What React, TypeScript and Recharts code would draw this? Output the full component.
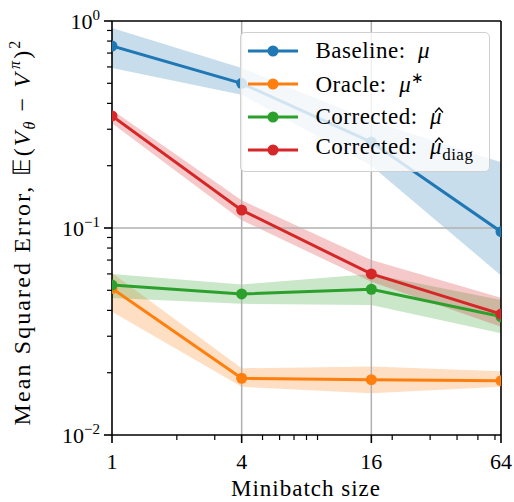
import React from 'react';
import { ComposedChart, Line, Area, XAxis, YAxis, ReferenceLine, Legend } from 'recharts';

const batchSizes = [1, 4, 16, 64];

const baseline = [0.757, 0.5, 0.26, 0.096];
const baselineLo = [0.593, 0.44, 0.2, 0.059];
const baselineHi = [0.925, 0.593, 0.33, 0.208];

const oracle = [0.051, 0.0188, 0.0185, 0.0183];
const oracleLo = [0.0394, 0.0171, 0.0159, 0.0171];
const oracleHi = [0.0606, 0.021, 0.0214, 0.0203];

const corrected = [0.053, 0.048, 0.0506, 0.0373];
const correctedLo = [0.0459, 0.043, 0.0425, 0.031];
const correctedHi = [0.06, 0.0534, 0.06, 0.0449];

const diag = [0.348, 0.122, 0.06, 0.0384];
const diagLo = [0.321, 0.109, 0.055, 0.0333];
const diagHi = [0.372, 0.136, 0.07, 0.046];

const xMajorTicks = [1, 4, 16, 64];
const xMinorTicks = [2, 3, 5, 6, 7, 8, 9, 20, 30, 40, 50, 60];
const yMajorTicks = [0.01, 0.1, 1];
const yMajorExp = ['−2', '−1', '0'];
const yMinorTicks = [0.02, 0.03, 0.04, 0.05, 0.06, 0.07, 0.08, 0.09, 0.2, 0.3, 0.4, 0.5, 0.6, 0.7, 0.8, 0.9];

const rows = batchSizes.map((b, i) => ({
  b,
  baseline: baseline[i],
  baselineBand: [baselineLo[i], baselineHi[i]],
  oracle: oracle[i],
  oracleBand: [oracleLo[i], oracleHi[i]],
  corrected: corrected[i],
  correctedBand: [correctedLo[i], correctedHi[i]],
  diag: diag[i],
  diagBand: [diagLo[i], diagHi[i]],
}));

const FONT = '"Liberation Serif", serif';

// mu with a hat drawn on top
const MuHat = () => (
  <span style={{ position: 'relative', display: 'inline-block' }}>
    <i>μ</i>
    <svg width={10} height={6} style={{ position: 'absolute', left: 4, top: 3 }}>
      <polyline points="1,5.5 5,1 9,5.5" fill="none" stroke="#000" strokeWidth={1.3} />
    </svg>
  </span>
);

const series = [
  { key: 'baseline', color: '#1f77b4', label: <>Baseline:&nbsp; <i>μ</i></> },
  { key: 'oracle', color: '#ff7f0e', label: <>Oracle:&nbsp; <i>μ</i><sup style={{ fontSize: 15 }}>∗</sup></> },
  { key: 'corrected', color: '#2ca02c', label: <>Corrected:&nbsp; <MuHat /></> },
  { key: 'diag', color: '#d62728', label: <>Corrected:&nbsp; <MuHat /><sub style={{ fontSize: 17 }}>diag</sub></> },
];

const XTick = (props: any) => {
  const { x, y, payload } = props;
  const major = xMajorTicks.includes(payload.value);
  return (
    <g>
      <line x1={x} x2={x} y1={y} y2={y + (major ? 8 : 5)} stroke="#000" strokeWidth={major ? 1.6 : 1.2} />
      {major && (
        <text x={x} y={y + 34} textAnchor="middle" fontFamily={FONT} fontSize={22} fill="#000">
          {payload.value}
        </text>
      )}
    </g>
  );
};

const YTick = (props: any) => {
  const { x, y, payload } = props;
  const idx = yMajorTicks.findIndex((v) => Math.abs(v - payload.value) < 1e-9);
  const major = idx >= 0;
  return (
    <g>
      <line x1={x - (major ? 8 : 5)} x2={x} y1={y} y2={y} stroke="#000" strokeWidth={major ? 1.6 : 1.2} />
      {major && (
        <text x={x - 12} y={y + 8} textAnchor="end" fontFamily={FONT} fontSize={22} fill="#000">
          <tspan>10</tspan>
          <tspan dy={-9} fontSize={15}>{yMajorExp[idx]}</tspan>
        </text>
      )}
    </g>
  );
};

const renderLegend = () => (
  <div
    style={{
      boxSizing: 'border-box',
      width: 250,
      background: 'rgba(255,255,255,0.8)',
      border: '1.5px solid #d0d0d0',
      borderRadius: 5,
      padding: '1px 6px 5px 5.5px',
      fontFamily: FONT,
      fontSize: 23,
      letterSpacing: 0.5,
      color: '#000',
    }}
  >
    {series.map((s) => (
      <div key={s.key} style={{ display: 'flex', alignItems: 'center', height: 33 }}>
        <svg width={52} height={14} style={{ marginRight: 17, flexShrink: 0 }}>
          <line x1={1} x2={51} y1={7} y2={7} stroke={s.color} strokeWidth={3} />
          <circle cx={26} cy={7} r={5.5} fill={s.color} />
        </svg>
        <span style={{ whiteSpace: 'nowrap' }}>{s.label}</span>
      </div>
    ))}
  </div>
);

export default function App() {
  return (
    <div style={{ position: 'absolute', left: 0, top: 0, width: 514, height: 502 }}>
      <ComposedChart width={514} height={502} data={rows} margin={{ top: 21, right: 13, bottom: 0, left: 0 }}>
        <XAxis
          dataKey="b"
          type="number"
          scale="log"
          domain={[1, 64]}
          allowDataOverflow
          ticks={[...xMajorTicks, ...xMinorTicks]}
          interval={0}
          tickSize={0}
          tickMargin={0}
          tickLine={false}
          tick={<XTick />}
          height={67}
          axisLine={{ stroke: '#000', strokeWidth: 1.6 }}
          label={{
            content: () => (
              <text x={306} y={496} textAnchor="middle" fontFamily={FONT} fontSize={23} letterSpacing={1} fill="#000">
                Minibatch size
              </text>
            ),
          }}
        />
        <YAxis
          type="number"
          scale="log"
          domain={[0.01, 1]}
          allowDataOverflow
          ticks={[...yMajorTicks, ...yMinorTicks]}
          interval={0}
          tickSize={0}
          tickMargin={0}
          tickLine={false}
          tick={<YTick />}
          width={112}
          axisLine={{ stroke: '#000', strokeWidth: 1.6 }}
          label={{
            content: () => (
              <text
                x={30}
                y={232}
                transform="rotate(-90 30 232)"
                textAnchor="middle"
                fontFamily={FONT}
                fontSize={24}
                letterSpacing={2.1}
                fill="#000"
              >
                Mean Squared Error, 𝔼(<tspan fontStyle="italic">V</tspan>
                <tspan dy={5} fontSize={16} fontStyle="italic">θ</tspan>
                <tspan dy={-5}> − </tspan>
                <tspan fontStyle="italic">V</tspan>
                <tspan dy={-10} fontSize={16} fontStyle="italic" dx={2}>π</tspan>
                <tspan dy={10}>)</tspan>
                <tspan dy={-10} fontSize={16}>2</tspan>
              </text>
            ),
          }}
        />
        <ReferenceLine x={4} stroke="#b0b0b0" strokeWidth={1.5} />
        <ReferenceLine x={16} stroke="#b0b0b0" strokeWidth={1.5} />
        <ReferenceLine y={0.1} stroke="#b0b0b0" strokeWidth={1.5} />

        {series.map((s) => (
          <Area
            key={s.key + 'Band'}
            dataKey={s.key + 'Band'}
            type="linear"
            stroke="none"
            fill={s.color}
            fillOpacity={0.25}
            isAnimationActive={false}
            activeDot={false}
            legendType="none"
          />
        ))}
        {series.map((s) => (
          <Line
            key={s.key}
            dataKey={s.key}
            type="linear"
            stroke={s.color}
            strokeWidth={3}
            dot={{ r: 5.5, fill: s.color, stroke: 'none' }}
            activeDot={false}
            isAnimationActive={false}
          />
        ))}

        <ReferenceLine y={1} stroke="#000" strokeWidth={1.6} />
        <ReferenceLine x={64} stroke="#000" strokeWidth={1.6} />

        <Legend
          layout="vertical"
          align="center"
          verticalAlign="middle"
          content={renderLegend}
          wrapperStyle={{ position: 'absolute', left: 240, top: 32, width: 250 }}
        />
      </ComposedChart>
    </div>
  );
}
